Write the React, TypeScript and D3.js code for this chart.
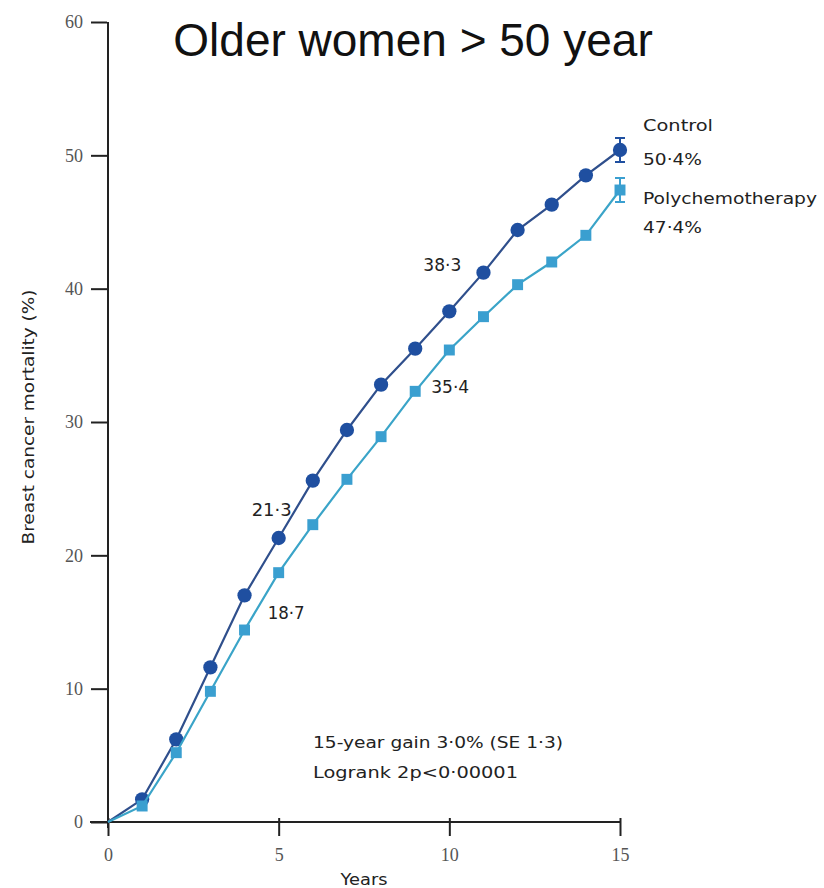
// @ts-nocheck
import React, { useEffect, useRef } from "react";
import * as d3 from "d3";

const years = [0, 1, 2, 3, 4, 5, 6, 7, 8, 9, 10, 11, 12, 13, 14, 15];
const control = [0, 1.7, 6.2, 11.6, 17.0, 21.3, 25.6, 29.4, 32.8, 35.5, 38.3, 41.2, 44.4, 46.3, 48.5, 50.4];
const poly = [0, 1.2, 5.2, 9.8, 14.4, 18.7, 22.3, 25.7, 28.9, 32.3, 35.4, 37.9, 40.3, 42.0, 44.0, 47.4];
const controlSE = 0.9;
const polySE = 0.9;
const yTicks = [0, 10, 20, 30, 40, 50, 60];
const xTicks = [0, 5, 10, 15];

// labels placed next to points: [year, value, text, dx, dy, anchor, width]
const pointLabels = [
  [5, 21.3, "21·3", -27, -22, "start", 40],
  [5, 18.7, "18·7", -11, 46, "start", 37],
  [10, 38.3, "38·3", -26, -40, "start", 38],
  [9, 32.3, "35·4", 16, 2, "start", 38],
];

function drawChart(el) {
  const width = 824;
  const height = 888;
  const x = d3.scaleLinear([0, 15], [108, 620]);
  const y = d3.scaleLinear([0, 60], [822, 22]);
  const font = "'DejaVu Sans', sans-serif";

  const svg = d3
    .select(el)
    .append("svg")
    .attr("width", width)
    .attr("height", height)
    .attr("viewBox", [0, 0, width, height])
    .style("position", "absolute")
    .style("left", 0)
    .style("top", 0)
    .style("background", "#fff");

  // stretched text helper, the scan's type is wide and soft
  const label = (sel, size, len) =>
    sel
      .attr("font-family", font)
      .attr("font-size", size)
      .attr("textLength", len)
      .attr("lengthAdjust", "spacingAndGlyphs")
      .attr("fill", "#222");

  // title
  svg
    .append("text")
    .attr("x", 413)
    .attr("y", 56)
    .attr("text-anchor", "middle")
    .attr("font-family", "'Liberation Sans', Arial, sans-serif")
    .attr("font-size", 46)
    .attr("fill", "#111")
    .text("Older women > 50 year");

  // y axis
  const yAxis = d3.axisLeft(y).tickValues(yTicks).tickSize(17).tickPadding(8);
  svg
    .append("g")
    .attr("transform", `translate(${x(0)},0)`)
    .call(yAxis)
    .call((g) => g.select(".domain").attr("d", `M0,${y(60)}V${y(0) + 6}`).attr("stroke", "#222").attr("stroke-width", 2))
    .call((g) => g.selectAll(".tick line").attr("x1", -1).attr("stroke", "#222").attr("stroke-width", 2))
    .call((g) =>
      g
        .selectAll(".tick text")
        .attr("font-family", "'Liberation Serif', serif")
        .attr("font-size", 18)
        .attr("fill", "#555")
    );

  // x axis
  const xAxis = d3.axisBottom(x).tickValues(xTicks).tickSize(14).tickPadding(12);
  svg
    .append("g")
    .attr("transform", `translate(0,${y(0)})`)
    .call(xAxis)
    .call((g) => g.select(".domain").attr("d", `M${x(0) - 18},0H${x(15) + 1}`).attr("stroke", "#222").attr("stroke-width", 2))
    .call((g) => g.selectAll(".tick line").attr("y1", -4).attr("stroke", "#222").attr("stroke-width", 2))
    .call((g) =>
      g
        .selectAll(".tick text")
        .attr("font-family", "'Liberation Serif', serif")
        .attr("font-size", 18)
        .attr("fill", "#555")
    );

  svg
    .append("text")
    .attr("x", 364)
    .attr("y", 885)
    .attr("text-anchor", "middle")
    .call(label, 15, 47)
    .text("Years");

  svg
    .append("text")
    .attr("transform", `translate(34,417) rotate(-90)`)
    .attr("text-anchor", "middle")
    .call(label, 16, 255)
    .text("Breast cancer mortality (%)");

  const line = d3
    .line()
    .x((d) => x(d[0]))
    .y((d) => y(d[1]));

  const series = [
    { values: control, se: controlSE, lineColor: "#2f4f8c", markColor: "#1f4fa0", symbol: d3.symbolCircle, size: 160 },
    { values: poly, se: polySE, lineColor: "#3aa4c8", markColor: "#3a9fd0", symbol: d3.symbolSquare, size: 120 },
  ];

  series.forEach((s) => {
    const pts = years.map((yr, i) => [yr, s.values[i]]);
    svg
      .append("path")
      .attr("d", line(pts))
      .attr("fill", "none")
      .attr("stroke", s.lineColor)
      .attr("stroke-width", 2.2);

    // error bar at last point
    const last = pts[pts.length - 1];
    const cx = x(last[0]);
    svg
      .append("path")
      .attr(
        "d",
        `M${cx},${y(last[1] - s.se)}V${y(last[1] + s.se)}M${cx - 5},${y(last[1] + s.se)}H${cx + 5}M${cx - 5},${y(
          last[1] - s.se
        )}H${cx + 5}`
      )
      .attr("stroke", s.markColor)
      .attr("stroke-width", 2);

    svg
      .append("g")
      .selectAll("path")
      .data(pts.slice(1))
      .join("path")
      .attr("transform", (d) => `translate(${x(d[0])},${y(d[1])})`)
      .attr("d", d3.symbol(s.symbol, s.size))
      .attr("fill", s.markColor);
  });

  // point labels
  svg
    .append("g")
    .selectAll("text")
    .data(pointLabels)
    .join("text")
    .attr("x", (d) => x(d[0]) + d[3])
    .attr("y", (d) => y(d[1]) + d[4])
    .attr("text-anchor", (d) => d[5])
    .each(function (d) {
      d3.select(this).call(label, 17, d[6]);
    })
    .text((d) => d[2]);

  // legend text at line ends
  const legend = [
    ["Control", 125, 70],
    ["50·4%", 159, 59],
    ["Polychemotherapy", 198, 174],
    ["47·4%", 227, 59],
  ];
  svg
    .append("g")
    .selectAll("text")
    .data(legend)
    .join("text")
    .attr("x", 643)
    .attr("y", (d) => d[1] + 6)
    .each(function (d) {
      d3.select(this).call(label, 16, d[2]);
    })
    .text((d) => d[0]);

  // annotation
  const notes = [
    ["15-year gain 3·0% (SE 1·3)", 250],
    ["Logrank 2p<0·00001", 205],
  ];
  svg
    .append("g")
    .selectAll("text")
    .data(notes)
    .join("text")
    .attr("x", 313)
    .attr("y", (d, i) => 748 + i * 30)
    .each(function (d) {
      d3.select(this).call(label, 16, d[1]);
    })
    .text((d) => d[0]);
}

export default function App() {
  const ref = useRef(null);
  useEffect(() => {
    if (!ref.current) return;
    ref.current.innerHTML = "";
    drawChart(ref.current);
  }, []);
  return <div ref={ref} />;
}
